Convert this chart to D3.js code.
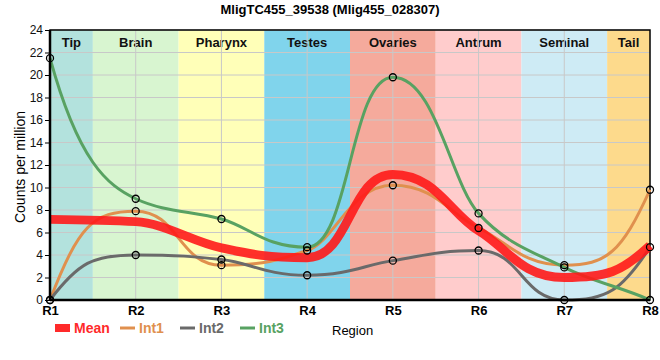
<!DOCTYPE html>
<html><head><meta charset="utf-8">
<script src="https://cdn.jsdelivr.net/npm/d3@7"></script>
<style>body{margin:0;background:#fff}svg{font-family:"Liberation Sans",Arial,sans-serif}</style>
</head><body>
<svg id="c" width="660" height="360"></svg>
<script>
const regions = ["R1","R2","R3","R4","R5","R6","R7","R8"];
const bandNames = ["Tip","Brain","Pharynx","Testes","Ovaries","Antrum","Seminal","Tail"];
const bandColors = ["#b3e2dd","#d8f5d0","#ffffb8","#80d4ec","#f5aa9c","#ffcccc","#ceebf5","#fdda8c"];
const int1 = [0, 7.9, 3.1, 4.4, 10.2, 6.4, 3.1, 9.8];
const int2 = [0, 4.0, 3.6, 2.2, 3.5, 4.4, 0, 4.7];
const int3 = [21.5, 9.0, 7.2, 4.7, 19.8, 7.7, 2.9, 0];
const mean = int1.map((v,i)=>(v+int2[i]+int3[i])/3);
const yTicks = d3.range(0, 25, 2);

// monotone-style cubic curve (flat at extrema, steeper ends)
function SmoothCurve(context){ this._context = context; }
SmoothCurve.prototype = {
  areaStart(){}, areaEnd(){},
  lineStart(){ this._xs=[]; this._ys=[]; },
  point(x,y){ this._xs.push(+x); this._ys.push(+y); },
  lineEnd(){
    const xs=this._xs, ys=this._ys, n=xs.length, c=this._context;
    if(!n) return;
    c.moveTo(xs[0],ys[0]);
    if(n<2) return;
    const h=[], s=[];
    for(let i=0;i<n-1;i++){ h[i]=xs[i+1]-xs[i]; s[i]=(ys[i+1]-ys[i])/h[i]; }
    const m=new Array(n).fill(0);
    const sg=v=>v<0?-1:1;
    for(let i=1;i<n-1;i++){
      const s0=s[i-1], s1=s[i], p=(s0*h[i]+s1*h[i-1])/(h[i-1]+h[i]);
      m[i]=(sg(s0)+sg(s1))*Math.min(Math.abs(s0),Math.abs(s1),0.5*Math.abs(p))||0;
    }
    const endT=(sv,madj)=>{ let t=2.5*sv-madj; if(sv===0||Math.sign(t)!==Math.sign(sv)) return 0; if(Math.abs(t)>3*Math.abs(sv)) t=3*sv; return t; };
    m[0]=n>2?endT(s[0],m[1]):s[0];
    m[n-1]=n>2?endT(s[n-2],m[n-2]):s[n-2];
    const a=m.map((v,i)=>(v===0&&i>0&&i<n-1)?0.5:1/3);
    for(let i=0;i<n-1;i++){
      const hh=h[i];
      c.bezierCurveTo(xs[i]+a[i]*hh, ys[i]+m[i]*a[i]*hh, xs[i+1]-a[i+1]*hh, ys[i+1]-m[i+1]*a[i+1]*hh, xs[i+1], ys[i+1]);
    }
  }
};
const smoothCurve = ctx => new SmoothCurve(ctx);

const svg = d3.select("#c");
const L=50, R=650, T=30, B=300;
const x = d3.scalePoint().domain(regions).range([L,R]);
const y = d3.scaleLinear().domain([0,24]).range([B,T]);
const step = x.step();

// bands
bandNames.forEach((n,i)=>{
  const cx = x(regions[i]);
  const x0 = Math.max(L, cx-step/2), x1 = Math.min(R, cx+step/2);
  svg.append("rect").attr("x",x0).attr("y",T).attr("width",x1-x0).attr("height",B-T).attr("fill",bandColors[i]);
  svg.append("text").attr("x",(x0+x1)/2).attr("y",T+17).attr("text-anchor","middle")
    .attr("font-size",13).attr("font-weight","bold").attr("fill","#111").text(n);
});
// grid
svg.append("g").selectAll("line").data(yTicks.slice(1)).join("line")
  .attr("x1",L).attr("x2",R).attr("y1",d=>y(d)).attr("y2",d=>y(d)).attr("stroke","#c8c8c8").attr("stroke-width",1);
svg.append("g").selectAll("line").data(regions.slice(1,-1)).join("line")
  .attr("x1",d=>x(d)).attr("x2",d=>x(d)).attr("y1",T).attr("y2",B).attr("stroke","#c8c8c8").attr("stroke-width",1);

// frame
svg.append("rect").attr("x",L).attr("y",T).attr("width",R-L).attr("height",B-T).attr("fill","none").attr("stroke","#000").attr("stroke-width",1.5);

const line = arr => d3.line().x((d,i)=>x(regions[i])).y(d=>y(d)).curve(smoothCurve)(arr);
const g = svg.append("g");
g.append("path").attr("d",line(int1)).attr("fill","none").attr("stroke","#e0904e").attr("stroke-width",3);
g.append("path").attr("d",line(int2)).attr("fill","none").attr("stroke","#6a6a6a").attr("stroke-width",3);
g.append("path").attr("d",line(int3)).attr("fill","none").attr("stroke","#58a262").attr("stroke-width",3);
g.append("path").attr("d",line(mean)).attr("fill","none").attr("stroke","#ff1a1a").attr("stroke-opacity",0.9).attr("stroke-width",9);

// axes lines
svg.append("line").attr("x1",L).attr("x2",L).attr("y1",T).attr("y2",B).attr("stroke","#000").attr("stroke-width",2.5);
svg.append("line").attr("x1",L).attr("x2",R).attr("y1",B).attr("y2",B).attr("stroke","#000").attr("stroke-width",2.5);

// markers
[int1,int2,int3].forEach(arr=>{
  g.append("g").selectAll("circle").data(arr).join("circle")
    .attr("cx",(d,i)=>x(regions[i])).attr("cy",d=>y(d)).attr("r",3.5)
    .attr("fill","none").attr("stroke","#000").attr("stroke-width",1.3);
});

// y axis
const ya = svg.append("g").attr("transform",`translate(${L},0)`).call(d3.axisLeft(y).tickValues(yTicks).tickSize(5).tickPadding(2));
ya.select(".domain").remove();
ya.selectAll("text").attr("font-size",12).attr("fill","#111").style("font-family","Liberation Sans, Arial, sans-serif");
// x axis
const xa = svg.append("g").attr("transform",`translate(0,${B})`).call(d3.axisBottom(x).tickSize(0).tickPadding(6));
xa.select(".domain").remove();
xa.selectAll("text").attr("font-size",13).attr("font-weight","bold").attr("fill","#000").style("font-family","Liberation Sans, Arial, sans-serif");

// title
svg.append("text").attr("x",330).attr("y",14).attr("text-anchor","middle").attr("font-size",13).attr("font-weight","bold").text("MligTC455_39538 (Mlig455_028307)");
// y label
svg.append("text").attr("transform","translate(25,167) rotate(-90)").attr("text-anchor","middle").attr("font-size",14).attr("fill","#000").text("Counts per million");
// legend
const leg = [
  {name:"Mean", color:"#ff2a2a", x:55, thick:true},
  {name:"Int1", color:"#e0904e", x:120},
  {name:"Int2", color:"#6a6a6a", x:180},
  {name:"Int3", color:"#58a262", x:240}
];
const lg = svg.append("g");
leg.forEach(d=>{
  if(d.thick) lg.append("rect").attr("x",d.x).attr("y",324).attr("width",15).attr("height",8).attr("fill",d.color);
  else lg.append("line").attr("x1",d.x).attr("x2",d.x+15).attr("y1",328).attr("y2",328).attr("stroke",d.color).attr("stroke-width",3);
  lg.append("text").attr("x",d.x+19).attr("y",333).attr("font-size",14).attr("font-weight","bold").attr("fill",d.color).text(d.name);
});
svg.append("text").attr("x",332).attr("y",335).attr("font-size",13).attr("fill","#000").text("Region");
</script>
</body></html>
